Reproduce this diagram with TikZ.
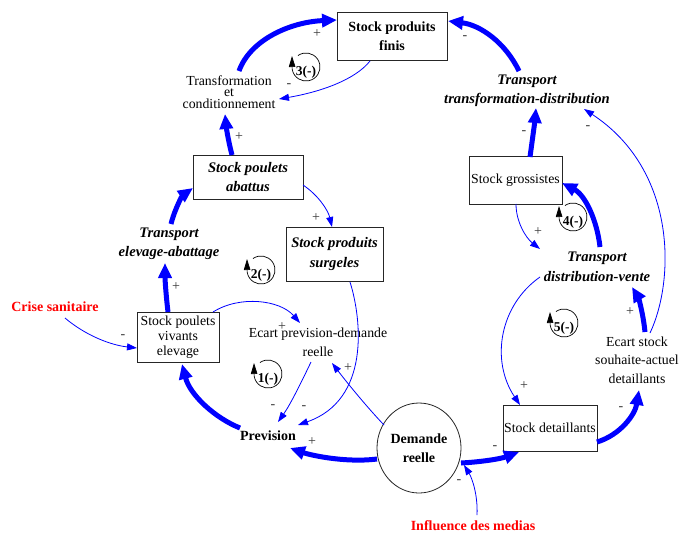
\documentclass[tikz,border=0pt]{standalone}
\usepackage{fontspec}
\setmainfont{Liberation Serif}
\usetikzlibrary{arrows.meta,shapes.geometric,calc}
\definecolor{lnk}{RGB}{0,0,255}
\definecolor{sgn}{RGB}{55,55,55}
\newcommand\loopmark[3]{%
  \node[font=\fontsize{13.5}{12}\selectfont\bfseries, inner sep=0pt] (#1) at #2 {#3};
  \draw[line width=0.7pt, -{Triangle[length=11pt,width=6.5pt]}]
    ($(#1)+(0,-5)+(-125:14)$) arc[start angle=-125, end angle=172, radius=14] -- ($(#1)+(-14,-16)$);
}
\begin{document}
\begin{tikzpicture}[x=1pt,y=-1pt,
  box/.style={draw=black!85, line width=0.8pt, align=center, inner sep=0pt},
  txt/.style={align=center, inner sep=1pt},
  reg/.style={font=\fontsize{13.8}{19}\selectfont},
  bf/.style={font=\fontsize{14}{19.5}\selectfont\bfseries},
  bfit/.style={font=\fontsize{14.6}{19.5}\selectfont\bfseries\itshape},
  thicklink/.style={draw=lnk, line width=5pt, -{Triangle[length=15pt,width=13pt]}},
  thinlink/.style={draw=lnk, line width=0.8pt, -{Triangle[length=10pt,width=7pt]}},
  sign/.style={font=\fontsize{14}{14}\selectfont, text=sgn, inner sep=0pt},
]
\useasboundingbox (0,0) rectangle (679,533);
\fill[white] (0,0) rectangle (679,533);

% nodes
\node[box, bf, minimum width=110pt, minimum height=48pt] (spf) at (392,36) {Stock produits\\finis};
\node[txt, font=\fontsize{13.8}{11.5}\selectfont] (tc) at (229,92) {Transformation\\et\\conditionnement};
\node[txt, bfit] (ttd) at (527,91) {Transport\\transformation-distribution};
\node[box, bfit, minimum width=110pt, minimum height=44pt] (spa) at (248,177) {Stock poulets\\abattus};
\node[box, bfit, minimum width=97pt, minimum height=54pt] (sps) at (334.5,254) {Stock produits\\surgeles};
\node[txt, bfit] (tea) at (169,244) {Transport\\elevage-abattage};
\node[box, reg, minimum width=93pt, minimum height=48pt] (sg) at (515.5,180) {Stock grossistes};
\node[txt, bfit] (tdv) at (597,267) {Transport\\distribution-vente};
\node[txt, bf, text=red] (crise) at (55,307) {Crise sanitaire};
\node[box, font=\fontsize{13.8}{15}\selectfont, minimum width=82pt, minimum height=50pt] (spv) at (178,337) {Stock poulets\\vivants\\elevage};
\node[txt, reg] (ecp) at (318,342) {Ecart prevision-demande\\reelle};
\node[txt, font=\fontsize{13.8}{18.5}\selectfont] (ecs) at (637,360) {Ecart stock\\souhaite-actuel\\detaillants};
\node[txt, bf] (prev) at (268,436) {Prevision};
\node[ellipse, draw=black!85, line width=0.8pt, bf, align=center, inner sep=0pt, minimum width=84pt, minimum height=90pt] (dem) at (419,448) {Demande\\reelle};
\node[box, reg, minimum width=94pt, minimum height=46pt] (sd) at (550,428) {Stock detaillants};
\node[txt, bf, text=red] (inf) at (473,526) {Influence des medias};

% loop markers
\loopmark{l1}{(268,379)}{1(-)}
\loopmark{l2}{(261,275)}{2(-)}
\loopmark{l3}{(306,72)}{3(-)}
\loopmark{l4}{(573,222)}{4(-)}
\loopmark{l5}{(564,328)}{5(-)}

% thick links
\draw[thicklink] ($(tc)+(10,-21)$) .. controls ($(tc)+(21,-52)$) and ($(spf)+(-102,-14)$) .. ($(spf)+(-55,-16)$);
\draw[thicklink] ($(ttd)+(-8,-20)$) .. controls ($(ttd)+(-22,-49)$) and ($(spf)+(88,-11)$) .. ($(spf)+(56,-15)$);
\draw[thicklink] ($(sg)+(14.5,-23)$) .. controls ($(sg)+(17.5,-45)$) and ($(ttd)+(8,29)$) .. ($(ttd)+(9,17)$);
\draw[thicklink] ($(spa)+(-16,-22)$) .. controls ($(spa)+(-20,-37)$) and ($(tc)+(-3,33)$) .. ($(tc)+(-4,22)$);
\draw[thicklink] ($(tea)+(2,-20)$) .. controls ($(tea)+(6,-36)$) and ($(spa)+(-65,18)$) .. ($(spa)+(-55,11)$);
\draw[thicklink] ($(spv)+(-10,-25)$) .. controls ($(spv)+(-12,-42)$) and ($(tea)+(-4,36)$) .. ($(tea)+(-4,19)$);
\draw[thicklink] ($(prev)+(-28,-8)$) .. controls ($(prev)+(-53,-18)$) and ($(spv)+(12,58)$) .. ($(spv)+(4,27)$);
\draw[thicklink] ($(dem)+(-42,11)$) .. controls ($(dem)+(-74,15)$) and ($(prev)+(42,19)$) .. ($(prev)+(22,12)$);
\draw[thicklink] ($(dem)+(42,15)$) .. controls ($(dem)+(61,14)$) and ($(sd)+(-50,31)$) .. ($(sd)+(-31,24)$);
\draw[thicklink] ($(sd)+(47,14)$) .. controls ($(sd)+(70,7)$) and ($(ecs)+(-2,55)$) .. ($(ecs)+(2,30)$);
\draw[thicklink] ($(ecs)+(8,-28)$) .. controls ($(ecs)+(6,-48)$) and ($(tdv)+(41,30)$) .. ($(tdv)+(35,20)$);
\draw[thicklink] ($(tdv)+(3,-20)$) .. controls ($(tdv)+(0,-47)$) and ($(sg)+(69.5,15)$) .. ($(sg)+(46.5,3)$);

% thin links
\draw[thinlink] ($(spf)+(-22,25)$) .. controls ($(spf)+(-37,44)$) and ($(tc)+(91,0)$) .. ($(tc)+(50,7)$);
\draw[thinlink] ($(spa)+(55,8)$) .. controls ($(spa)+(70,18)$) and ($(sps)+(-6.5,-44)$) .. ($(sps)+(-2.5,-27)$);
\draw[thinlink] ($(sps)+(15.5,28)$) .. controls ($(sps)+(27.5,66)$) and ($(prev)+(102,-36)$) .. ($(prev)+(30,-11)$);
\draw[thinlink] ($(ecp)+(-7,20)$) .. controls ($(ecp)+(-18,43)$) and ($(prev)+(22,-31)$) .. ($(prev)+(10,-14)$);
\draw[thinlink] ($(spv)+(35,-25)$) .. controls ($(spv)+(62,-42)$) and ($(ecp)+(-38,-42)$) .. ($(ecp)+(-18,-19)$);
\draw[thinlink] ($(crise)+(10,11)$) .. controls ($(crise)+(30,28)$) and ($(spv)+(-68,8)$) .. ($(spv)+(-41,11)$);
\draw[thinlink] ($(sg)+(0.5,24)$) .. controls ($(sg)+(0.5,42)$) and ($(tdv)+(-71,-29)$) .. ($(tdv)+(-57,-18)$);
\draw[thinlink] ($(tdv)+(-57,10)$) .. controls ($(tdv)+(-97,38)$) and ($(sd)+(-60,-68)$) .. ($(sd)+(-30,-23)$);
\draw[thinlink] ($(ecs)+(13,-27)$) .. controls ($(ecs)+(38,-80)$) and ($(ttd)+(150,79)$) .. ($(ttd)+(57,18)$);
\draw[thinlink] ($(dem)+(-35,-23)$) .. controls ($(dem)+(-54,-43)$) and ($(ecp)+(27,38)$) .. ($(ecp)+(14,21)$);
\draw[thinlink] ($(inf)+(4,-11)$) .. controls ($(inf)+(5,-31)$) and ($(dem)+(53,30)$) .. ($(dem)+(45,17)$);

% signs
\node[sign] (s1) at (317,34) {+};
\node[sign] (s2) at (465,38) {-};
\node[sign] (s3) at (524,133) {-};
\node[sign] (s4) at (239,137) {+};
\node[sign] (s5) at (176,287) {+};
\node[sign] (s6) at (289,86) {-};
\node[sign] (s7) at (316,218) {+};
\node[sign] (s8) at (588,128) {-};
\node[sign] (s9) at (538,232) {+};
\node[sign] (s10) at (282,327) {+};
\node[sign] (s11) at (273,407) {-};
\node[sign] (s12) at (304,408) {-};
\node[sign] (s13) at (348,368) {+};
\node[sign] (s14) at (312,442) {+};
\node[sign] (s15) at (495,448) {-};
\node[sign] (s16) at (459,482) {-};
\node[sign] (s17) at (621,409) {-};
\node[sign] (s18) at (630,312) {+};
\node[sign] (s19) at (524,386) {+};
\node[sign] (s20) at (123,337) {-};
\end{tikzpicture}
\end{document}
